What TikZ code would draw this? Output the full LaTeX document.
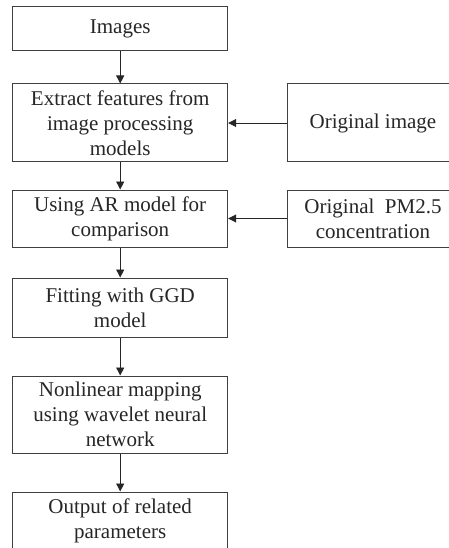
\documentclass[tikz,border=0pt]{standalone}
\usepackage{fontspec}
\setmainfont{Liberation Serif}
\usetikzlibrary{arrows.meta}
\begin{document}
\begin{tikzpicture}[x=1pt,y=-1pt,
  box/.style={draw=black!75, line width=1pt, rectangle, align=center, inner sep=0pt,
    font=\fontsize{21}{25}\selectfont, text=black!85},
  arr/.style={draw=black!85, line width=0.9pt, -{Triangle[length=8pt,width=8pt]}}]
\useasboundingbox (0,0) rectangle (449,548);
\fill[white] (0,0) rectangle (449,548);
\node[box, minimum width=215pt, minimum height=43.7pt] (img) at (120.2,28.8) {Images};
\node[box, minimum width=215pt, minimum height=78pt] (ext) at (120.2,123) {Extract features from\\image processing\\models};
\node[box, minimum width=172pt, minimum height=78pt] (orig) at (373,123) {Original image};
\node[box, minimum width=215pt, minimum height=57pt] (ar) at (120.2,218.5) {Using AR model for\\comparison};
\node[box, minimum width=172pt, minimum height=57pt] (pm) at (373,218.5) {Original\ \ PM2.5\\concentration};
\node[box, minimum width=215pt, minimum height=59pt] (fit) at (120.2,307.5) {Fitting with GGD\\model};
\node[box, minimum width=215pt, minimum height=77pt] (nl) at (120.2,414.5) {Nonlinear mapping\\using wavelet neural\\network};
\node[box, minimum width=215pt, minimum height=58pt] (out) at (120.2,521) {Output of related\\parameters};
\draw[arr] (img) -- (ext);
\draw[arr] (ext) -- (ar);
\draw[arr] (ar) -- (fit);
\draw[arr] (fit) -- (nl);
\draw[arr] (nl) -- (out);
\draw[arr] (orig) -- (ext);
\draw[arr] (pm.west) -- (ar.east);
\end{tikzpicture}
\end{document}
